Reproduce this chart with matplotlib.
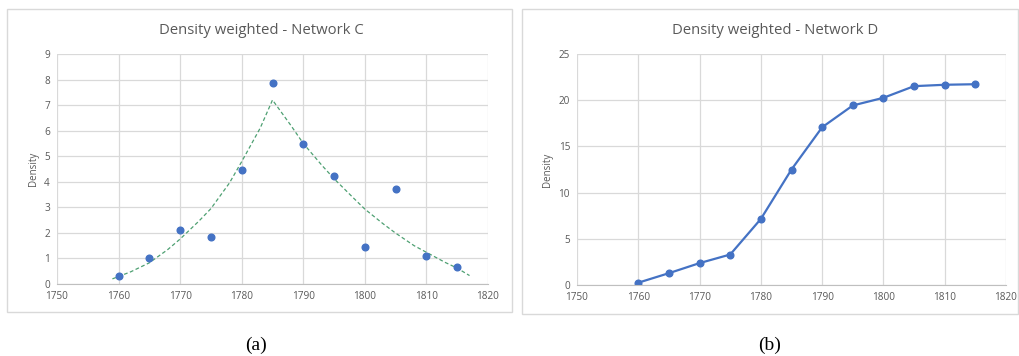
import matplotlib.pyplot as plt
from matplotlib.patches import Rectangle

# Network C - scatter with trend line
years = [1760, 1765, 1770, 1775, 1780, 1785, 1790, 1795, 1800, 1805, 1810, 1815]
density_c = [0.33, 1.0, 2.13, 1.85, 4.45, 7.85, 5.47, 4.23, 1.45, 3.73, 1.1, 0.67]

# trend line (dashed green)
trend_x = [1759, 1762, 1765, 1768, 1770, 1773, 1775, 1778, 1780, 1783, 1785,
           1788, 1790, 1793, 1795, 1798, 1800, 1803, 1805, 1808, 1810, 1813, 1815, 1817]
trend_y = [0.2, 0.48, 0.83, 1.35, 1.76, 2.45, 2.95, 3.95, 4.79, 6.1, 7.2,
           6.2, 5.5, 4.65, 4.12, 3.4, 2.93, 2.35, 1.99, 1.5, 1.24, 0.85, 0.62, 0.33]

# Network D - line with markers
density_d = [0.25, 1.28, 2.37, 3.3, 7.15, 12.5, 17.07, 19.43, 20.26, 21.52, 21.67, 21.73]

blue = '#4472C4'
grid_col = '#D9D9D9'
text_col = '#595959'

plt.rcParams['font.family'] = ['Open Sans', 'DejaVu Sans']

fig = plt.figure(figsize=(10.2, 3.56), dpi=100)
W, H = 1020, 356


def px_axes(x0, x1, y0, y1):
    # pixel box -> figure coords
    return fig.add_axes([x0 / W, 1 - y1 / H, (x1 - x0) / W, (y1 - y0) / H])


def style_axes(ax, ymax, ystep):
    ax.set_xlim(1750, 1820)
    ax.set_ylim(0, ymax)
    ax.set_xticks(range(1750, 1821, 10))
    ax.set_yticks(range(0, ymax + 1, ystep))
    ax.grid(True, color=grid_col, linewidth=0.9)
    ax.set_axisbelow(True)
    for s in ['left', 'top', 'right']:
        ax.spines[s].set_visible(False)
    ax.spines['bottom'].set_color('#BFBFBF')
    ax.tick_params(length=0, labelsize=7.2, colors=text_col, pad=5)
    ax.set_ylabel('Density', fontsize=7, color=text_col, labelpad=4)


# panel frames
fig.patches.append(Rectangle((7 / W, 1 - 312 / H), (512 - 7) / W, (312 - 9) / H,
                             transform=fig.transFigure, fill=False,
                             edgecolor='#D9D9D9', linewidth=1))
fig.patches.append(Rectangle((522 / W, 1 - 314 / H), (1018 - 522) / W, (314 - 9) / H,
                             transform=fig.transFigure, fill=False,
                             edgecolor='#D9D9D9', linewidth=1))

# left chart
ax1 = px_axes(57, 488, 54, 284)
style_axes(ax1, 9, 1)
ax1.plot(trend_x, trend_y, linestyle=(0, (3, 2)), color='#4EA072', linewidth=0.9)
ax1.plot(years, density_c, 'o', color=blue, markersize=4.8)
fig.text(261 / W, 1 - 30 / H, 'Density weighted - Network C', ha='center', va='center',
         fontsize=10.7, color=text_col)

# right chart
ax2 = px_axes(577, 1006, 54, 285)
style_axes(ax2, 25, 5)
ax2.plot(years, density_d, '-o', color=blue, markersize=4.8, linewidth=1.6)
fig.text(775 / W, 1 - 30 / H, 'Density weighted - Network D', ha='center', va='center',
         fontsize=10.7, color=text_col)

# captions
fig.text(256 / W, 1 - 345 / H, '(a)', ha='center', va='center', fontsize=14,
         family='Liberation Serif', color='black')
fig.text(770 / W, 1 - 345 / H, '(b)', ha='center', va='center', fontsize=14,
         family='Liberation Serif', color='black')

fig.savefig('out.png', dpi=100)
